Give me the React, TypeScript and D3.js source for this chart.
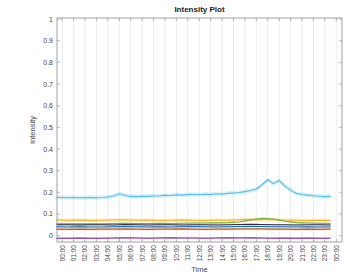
import React from "react";
import * as d3 from "d3";

const hoursFine = [-0.5,0,0.5,1,1.5,2,2.5,3,3.5,4,4.5,5,5.5,6,6.5,7,7.5,8,8.5,9,9.5,10,10.5,11,11.5,12,12.5,13,13.5,14,14.5,15,15.5,16,16.5,17,17.5,18,18.5,19,19.5,20,20.5,21,21.5,22,22.5,23,23.5];
const cyanValues = [0.176,0.176,0.175,0.176,0.175,0.175,0.176,0.175,0.176,0.178,0.183,0.193,0.186,0.181,0.18,0.182,0.181,0.183,0.184,0.186,0.185,0.189,0.187,0.19,0.19,0.189,0.191,0.19,0.193,0.192,0.195,0.197,0.199,0.203,0.208,0.215,0.235,0.258,0.24,0.255,0.228,0.21,0.195,0.19,0.187,0.184,0.182,0.18,0.181];

const hoursCoarse = [-0.5,0.5,1.5,2.5,3.5,4.5,5.5,6.5,7.5,8.5,9.5,10.5,11.5,12.5,13.5,14.5,15.5,16.5,17.5,18.5,19.5,20.5,21.5,22.5,23.5];
const yellowValues = [0.072,0.071,0.072,0.07,0.071,0.072,0.073,0.071,0.072,0.07,0.071,0.072,0.071,0.07,0.072,0.071,0.073,0.075,0.074,0.073,0.072,0.071,0.07,0.071,0.07];
const darkRedValues = [0.05,0.05,0.049,0.05,0.05,0.049,0.051,0.05,0.049,0.05,0.05,0.049,0.05,0.05,0.049,0.05,0.051,0.052,0.051,0.05,0.05,0.049,0.05,0.05,0.049];
const blueValues = [0.041,0.04,0.041,0.04,0.04,0.041,0.042,0.041,0.04,0.041,0.04,0.041,0.042,0.041,0.04,0.041,0.042,0.043,0.042,0.041,0.041,0.04,0.041,0.04,0.04];
const greenValues = [0.055,0.055,0.054,0.055,0.055,0.056,0.057,0.056,0.056,0.057,0.056,0.057,0.058,0.058,0.059,0.06,0.063,0.072,0.08,0.077,0.066,0.06,0.058,0.057,0.056];
const orangeValues = [0.03,0.029,0.03,0.029,0.03,0.03,0.031,0.03,0.029,0.03,0.03,0.031,0.03,0.029,0.03,0.03,0.031,0.032,0.031,0.03,0.03,0.029,0.03,0.029,0.03];
const purpleValues = [-0.012,-0.012,-0.011,-0.012,-0.012,-0.011,-0.01,-0.011,-0.012,-0.011,-0.01,-0.011,-0.011,-0.012,-0.011,-0.01,-0.011,-0.01,-0.011,-0.012,-0.011,-0.012,-0.011,-0.012,-0.012];

const tickHours = d3.range(0, 25);
const tickLabels = tickHours.map((h) => `${String(h % 24).padStart(2, "0")}:00`);
const yTicks = [0,0.1,0.2,0.3,0.4,0.5,0.6,0.7,0.8,0.9,1];

const W = 347, H = 275;
const left = 57, right = 342, top = 18, bottom = 242;

export default function App() {
  const x = d3.scaleLinear().domain([-0.45, 24.5]).range([left, right]);
  const y = d3.scaleLinear().domain([-0.0295, 1.005]).range([bottom, top]);
  const line = d3.line<[number, number]>().x((d) => x(d[0])).y((d) => y(d[1]));
  const area = (hs: number[], vs: number[], w: number) =>
    d3.area<number>().x((_, i) => x(hs[i])).y0((v) => y(v - w)).y1((v) => y(v + w))(vs) || "";
  const series = [
    { hs: hoursCoarse, vs: yellowValues, c: "#EDB120", band: 0.008 },
    { hs: hoursCoarse, vs: purpleValues, c: "#7E2F8E", band: 0.004 },
    { hs: hoursCoarse, vs: orangeValues, c: "#D95319", band: 0.005 },
    { hs: hoursCoarse, vs: blueValues, c: "#0072BD", band: 0.003 },
    { hs: hoursCoarse, vs: greenValues, c: "#77AC30", band: 0.004 },
    { hs: hoursCoarse, vs: darkRedValues, c: "#3a2a40", band: 0.003 },
    { hs: hoursFine, vs: cyanValues, c: "#4DBEEE", band: 0.01 },
  ];
  const font = "'Liberation Sans', Arial, sans-serif";
  return (
    <svg width={W} height={H} style={{ position: "absolute", left: 0, top: 0, background: "#fff" }}>
      {tickHours.map((h) => (
        <line key={"g" + h} x1={x(h)} x2={x(h)} y1={top} y2={bottom} stroke="#e6e6e6" strokeWidth={0.8} />
      ))}
      {series.map((s, i) => (
        <path key={"a" + i} d={area(s.hs, s.vs, s.band)} fill={s.c} opacity={0.2} />
      ))}
      {series.map((s, i) => (
        <path key={"l" + i} d={line(s.hs.map((h, j) => [h, s.vs[j]]) as [number, number][]) || ""} fill="none" stroke={s.c} strokeWidth={1.1} />
      ))}
      <rect x={left} y={top} width={right - left} height={bottom - top} fill="none" stroke="#8a8a8a" strokeWidth={0.8} />
      {tickHours.map((h) => (
        <g key={"xt" + h}>
          <line x1={x(h)} x2={x(h)} y1={bottom} y2={bottom - 3} stroke="#8a8a8a" strokeWidth={0.6} />
          <line x1={x(h)} x2={x(h)} y1={top} y2={top + 3} stroke="#8a8a8a" strokeWidth={0.6} />
          <text transform={`translate(${x(h) + 2.5},${bottom + 3}) rotate(-90)`} textAnchor="end" fontSize={6.5} fontFamily={font} fill="#444">
            {tickLabels[h]}
          </text>
        </g>
      ))}
      {yTicks.map((v) => (
        <g key={"yt" + v}>
          <line x1={left} x2={left + 3} y1={y(v)} y2={y(v)} stroke="#8a8a8a" strokeWidth={0.6} />
          <line x1={right} x2={right - 3} y1={y(v)} y2={y(v)} stroke="#8a8a8a" strokeWidth={0.6} />
          <text x={left - 4} y={y(v) + 2.5} textAnchor="end" fontSize={7} fontFamily={font} fill="#444">
            {String(v)}
          </text>
        </g>
      ))}
      <text x={(left + right) / 2} y={12} textAnchor="middle" fontSize={8} fontWeight="bold" fontFamily={font} fill="#222">
        Intensity Plot
      </text>
      <text x={(left + right) / 2} y={272} textAnchor="middle" fontSize={7.5} fontFamily={font} fill="#444">
        Time
      </text>
      <text transform={`translate(35,${(top + bottom) / 2}) rotate(-90)`} textAnchor="middle" fontSize={7.5} fontFamily={font} fill="#444">
        Intensity
      </text>
    </svg>
  );
}
